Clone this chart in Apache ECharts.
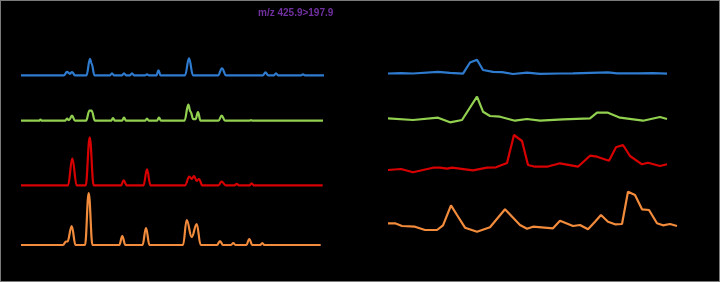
<!DOCTYPE html>
<html>
<head>
<meta charset="utf-8">
<script src="https://cdn.jsdelivr.net/npm/echarts@6/dist/echarts.min.js"></script>
<style>
  html, body { margin: 0; padding: 0; background: #000; }
  #wrap { position: relative; width: 720px; height: 282px; }
  #chart { width: 720px; height: 282px; }
  #wrap::after { content: ""; position: absolute; left: 0; top: 0; right: 0; bottom: 0;
    border: 1px solid #7a7a7a; pointer-events: none; }
</style>
</head>
<body>
<div id="wrap"><div id="chart"></div></div>
<script>
// Title
const titleText = 'm/z 425.9>197.9';

// Left panel traces: [scan, relative intensity]
const leftBlue = [[0,0],[43,0],[46,3.5],[49,1.5],[51,3.3],[54,0],[65.5,0],[69,16.5],[70.5,12],[73.5,0],
  [89,0],[91,2],[93,0],[101,0],[103,2],[105,0],[109,0],[111,2],[113,0],[124,0],[126,1],[128,0],
  [135.5,0],[137.5,5],[139.5,0],[164,0],[168,17],[172,0],[197,0],[201,7],[205,0],
  [242,0],[244.5,3],[247,0],[253,0],[255,2],[257,0],[280,0],[282,1],[284,0],[303,0]];
const leftGreen = [[0,0],[18,0],[19.5,1],[21,0],[44,0],[46,2],[48,0.5],[51,5],[54,0],[65,0],[68.5,10],[70.5,10],[74,0],
  [90,0],[92,2.5],[94,0],[101,0],[103,3],[105,0],[124,0],[126,2],[128,0],[136,0],[138,3],[140,0],
  [163.5,0],[167.3,16],[169.5,9],[172.3,1.5],[174.5,1.5],[177,8.5],[179.5,0],
  [197.5,0],[200.7,5],[204,0],[228.5,0],[230,0.7],[231.5,0],[302,0]];
const leftRed = [[0,0],[47,0],[51.3,27],[55.7,0],[64.7,0],[68.7,48],[72.7,0],
  [100,0],[102.7,5],[105.7,0],[122.5,0],[126,16],[129.5,0],
  [164,0],[168.3,8.7],[170.7,6.3],[173,9.3],[175.7,4.3],[178,6.3],[181.3,0],
  [197.3,0],[200.7,3.6],[204.7,0],[213.7,0],[215.7,1.5],[217.7,0],[228.7,0],[230.7,2],[232.7,0],[301.7,0]];
const leftOrange = [[0,0],[42,0],[45,3.5],[46.5,3.5],[50.7,19],[54.5,0],[64,0],[67.7,52],[71.5,0],
  [98.3,0],[101.3,9],[104.3,0],[121.5,0],[125,17],[128.5,0],
  [162,0],[165.7,25],[170.7,8],[175.7,21],[179.7,0],
  [196,0],[199,4],[202,0],[210,0],[212.3,2],[214.5,0],[225.3,0],[228.3,6],[231.3,0],[239.3,0],[241.3,2],[243.3,0],[299.7,0]];

// Right panel traces: [scan, relative intensity]
const rightBlue = [[0,2.5],[13,2.8],[25,2.5],[50,4.2],[62,3.2],[75,2.4],[82,13.5],[89,16.2],[95,6],[105,4.2],[114,3.8],
  [125,2],[139,3.3],[152,2.2],[172,2.5],[185,2.7],[220,3.6],[229,2.7],[250,2.6],[265,2.8],[279,2.4]];
const rightGreen = [[0,6.7],[25,5],[50,7.3],[62,2.7],[74,5],[89,28.3],[95,13.3],[102,9],[112,8.3],[127,4.3],[139,6],
  [152,4.3],[175,5.7],[202,6.7],[209,12.3],[220,12.3],[232,7.3],[255,4.3],[272,8],[279,6]];
const rightRed = [[0,5],[13,6],[25,2.7],[45,7.3],[52,7.3],[59,6.3],[64,7.3],[85,4.7],[99,7.3],[108,7.7],[119,12],
  [126,40],[134,34],[140,10],[147,8.3],[159,8.3],[172,11.7],[190,8.3],[202,19.3],[209,18.3],[221,14.3],
  [228,27.7],[235,30],[242,19],[254,10.7],[260,12.3],[272,9],[279,10.7]];
const rightOrange = [[0,12.7],[7,12.7],[14,10],[27,9.3],[37,6],[49,6],[55,10.7],[63,30.7],[69,21],[77,8.3],[89,4.3],
  [102,8.7],[117,26.7],[132,11],[139,7.3],[145,9.3],[165,7.7],[172,15.3],[185,10],[192,11],[200,6.7],
  [207,14.3],[213,21],[220,14.3],[227,11.7],[234,12],[240,44.3],[247,41],[254,26.7],[261,26],[269,12.7],
  [275,10.7],[282,12],[289,10]];

const colors = { blue: '#2E7BCF', green: '#92D050', red: '#D80000', orange: '#F28C3C' };

const panels = [
  // left panel (smooth chromatogram peaks)
  { data: leftBlue,   color: colors.blue,   smooth: true, grid: { left: 21, width: 303, top: 55.3, height: 20 }, xmax: 303, ymax: 20 },
  { data: leftGreen,  color: colors.green,  smooth: true, grid: { left: 21, width: 303, top: 100.7, height: 20 }, xmax: 303, ymax: 20 },
  { data: leftRed,    color: colors.red,    smooth: true, grid: { left: 21, width: 303, top: 130.3, height: 55 }, xmax: 303, ymax: 55 },
  { data: leftOrange, color: colors.orange, smooth: true, grid: { left: 21, width: 303, top: 190, height: 55 }, xmax: 303, ymax: 55 },
  // right panel (point-to-point)
  { data: rightBlue,   color: colors.blue,   smooth: false, grid: { left: 388, width: 289, top: 56, height: 20 }, xmax: 289, ymax: 20 },
  { data: rightGreen,  color: colors.green,  smooth: false, grid: { left: 388, width: 289, top: 95, height: 30 }, xmax: 289, ymax: 30 },
  { data: rightRed,    color: colors.red,    smooth: false, grid: { left: 388, width: 289, top: 130, height: 45 }, xmax: 289, ymax: 45 },
  { data: rightOrange, color: colors.orange, smooth: false, grid: { left: 388, width: 289, top: 186, height: 50 }, xmax: 289, ymax: 50 }
];

const chart = echarts.init(document.getElementById('chart'), null, { renderer: 'canvas' });
chart.setOption({
  backgroundColor: '#000',
  animation: false,
  title: {
    text: titleText, left: 253, top: 3,
    textStyle: { color: '#7030A0', fontSize: 10, fontWeight: 'bold', fontFamily: 'Liberation Sans Narrow, Liberation Sans, sans-serif' }
  },
  grid: panels.map(p => Object.assign({ containLabel: false, show: false }, p.grid)),
  xAxis: panels.map((p, i) => ({ type: 'value', gridIndex: i, min: 0, max: p.xmax, show: false })),
  yAxis: panels.map((p, i) => ({ type: 'value', gridIndex: i, min: 0, max: p.ymax, show: false })),
  series: panels.map((p, i) => ({
    type: 'line', xAxisIndex: i, yAxisIndex: i, data: p.data, symbol: 'none', clip: false,
    smooth: p.smooth ? 0.4 : false, smoothMonotone: p.smooth ? 'x' : undefined,
    lineStyle: { color: p.color, width: 2.2 }, itemStyle: { color: p.color }
  }))
});
</script>
</body>
</html>
